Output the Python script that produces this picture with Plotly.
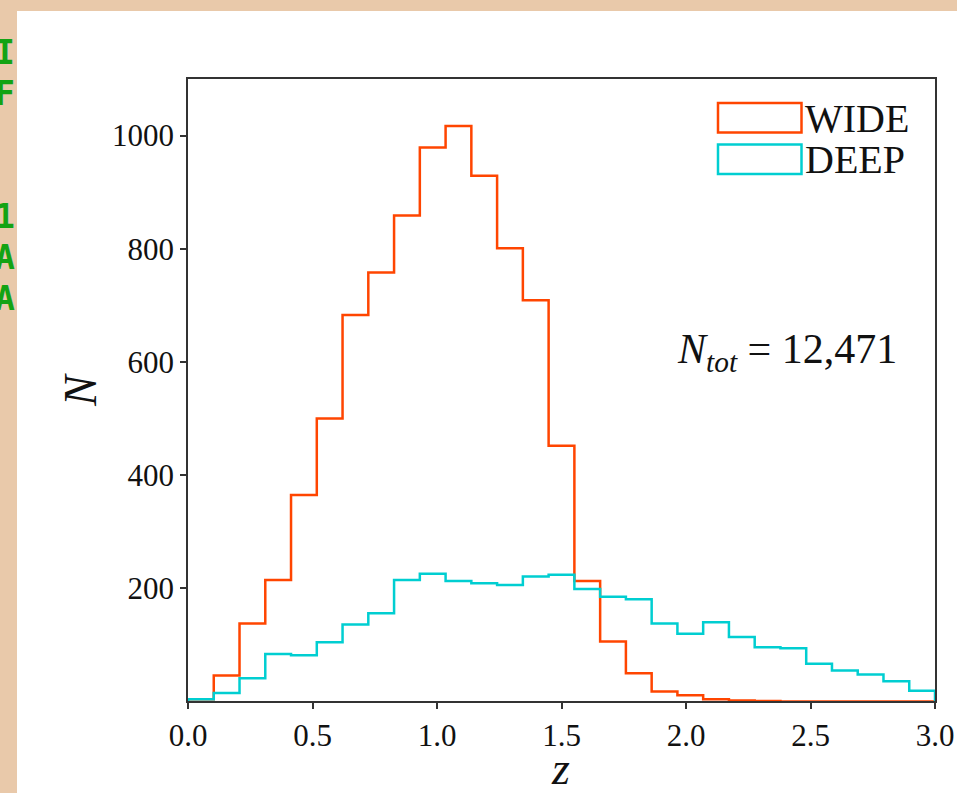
import plotly.graph_objects as go

# ---- data ----
z_min, z_max, n_bins = 0.0, 3.0, 29
wide_counts = [4, 46, 138, 215, 365, 500, 683, 758, 859, 979, 1017, 929, 801, 709,
               452, 213, 106, 50, 18, 11, 4, 2, 1, 0, 0, 0, 0, 0, 0]
deep_counts = [4, 15, 41, 84, 82, 105, 136, 156, 215, 226, 213, 209, 206, 221,
               224, 199, 185, 181, 138, 120, 140, 114, 96, 94, 67, 55, 48, 36, 19]
series_names = ["WIDE", "DEEP"]
series_colors = ["#FF4500", "#00CED1"]
x_ticks = [0.0, 0.5, 1.0, 1.5, 2.0, 2.5, 3.0]
y_ticks = [200, 400, 600, 800, 1000]
n_tot_label = "12,471"
side_letters = ["I", "F", "", "", "1", "A", "A"]

width = (z_max - z_min) / n_bins
edges = [z_min + i * width for i in range(n_bins + 1)]


def step_xy(counts):
    xs = [edges[0]] + edges[:-1] + [edges[-1], edges[-1]]
    ys = [0] + list(counts) + [counts[-1], 0]
    return xs, ys


fig = go.Figure()
for name, counts, col in zip(series_names, [wide_counts, deep_counts], series_colors):
    xs, ys = step_xy(counts)
    fig.add_trace(go.Scatter(x=xs, y=ys, mode="lines", line=dict(color=col, width=2.5, shape="hv"),
                             name=name, showlegend=False, hoverinfo="skip"))

L, R, T, B = 188, 22, 79, 92
W, H = 957, 793
pw, ph = W - L - R, H - T - B


def px(x):
    return (x - L) / pw


def py(y):
    return (H - B - y) / ph


serif = "Liberation Serif, Times New Roman, serif"
axis_common = dict(showline=True, mirror=True, linecolor="#333", linewidth=1.5,
                   ticks="outside", ticklen=6, tickwidth=1.5, tickcolor="#333",
                   showgrid=False, zeroline=False, automargin=False,
                   tickfont=dict(family=serif, size=31, color="#111"))

fig.update_layout(
    width=W, height=H,
    margin=dict(l=L, r=R, t=T, b=B, autoexpand=False),
    paper_bgcolor="#E9C9AA",
    plot_bgcolor="white",
    xaxis=dict(range=[z_min, z_max], tickvals=x_ticks, tickformat=".1f", **axis_common),
    yaxis=dict(range=[1, 1100], tickvals=y_ticks, **axis_common),
)

shapes = [dict(type="rect", xref="paper", yref="paper", layer="below",
               x0=px(17), x1=px(W + 5), y0=py(H + 5), y1=py(11),
               fillcolor="white", line=dict(width=0))]
# legend boxes
box_tops = [103, 144.5]
for col, top in zip(series_colors, box_tops):
    shapes.append(dict(type="rect", xref="paper", yref="paper",
                       x0=px(718), x1=px(801.5), y0=py(top + 29.5), y1=py(top),
                       fillcolor="rgba(0,0,0,0)", line=dict(color=col, width=2.5)))
fig.update_layout(shapes=shapes)

ann = []
for name, top in zip(series_names, box_tops):
    ann.append(dict(text=name, xref="paper", yref="paper", x=px(803), y=py(top + 15),
                    xanchor="left", yanchor="middle", showarrow=False,
                    font=dict(family=serif, size=40, color="#111")))
ann.append(dict(text="<i>N</i><sub><i>tot</i></sub> = " + n_tot_label, xref="paper", yref="paper",
                x=px(899), y=py(352), xanchor="right", yanchor="middle", showarrow=False,
                font=dict(family=serif, size=42, color="#111")))
ann.append(dict(text="<i>N</i>", xref="paper", yref="paper", x=px(80), y=py(390),
                xanchor="center", yanchor="middle", textangle=-90, showarrow=False,
                font=dict(family=serif, size=46, color="#111")))
ann.append(dict(text="<i>z</i>", xref="paper", yref="paper", x=px(560), y=py(768),
                xanchor="center", yanchor="middle", showarrow=False,
                font=dict(family=serif, size=46, color="#111")))
for i, ch in enumerate(side_letters):
    if not ch:
        continue
    ann.append(dict(text="<b>" + ch + "</b>", xref="paper", yref="paper", x=px(17), y=py(52.5 + 41 * i),
                    xanchor="right", yanchor="middle", showarrow=False,
                    font=dict(family="DejaVu Sans Mono, monospace", size=33, color="#13A313")))
fig.update_layout(annotations=ann)

fig.write_html("out.html")
